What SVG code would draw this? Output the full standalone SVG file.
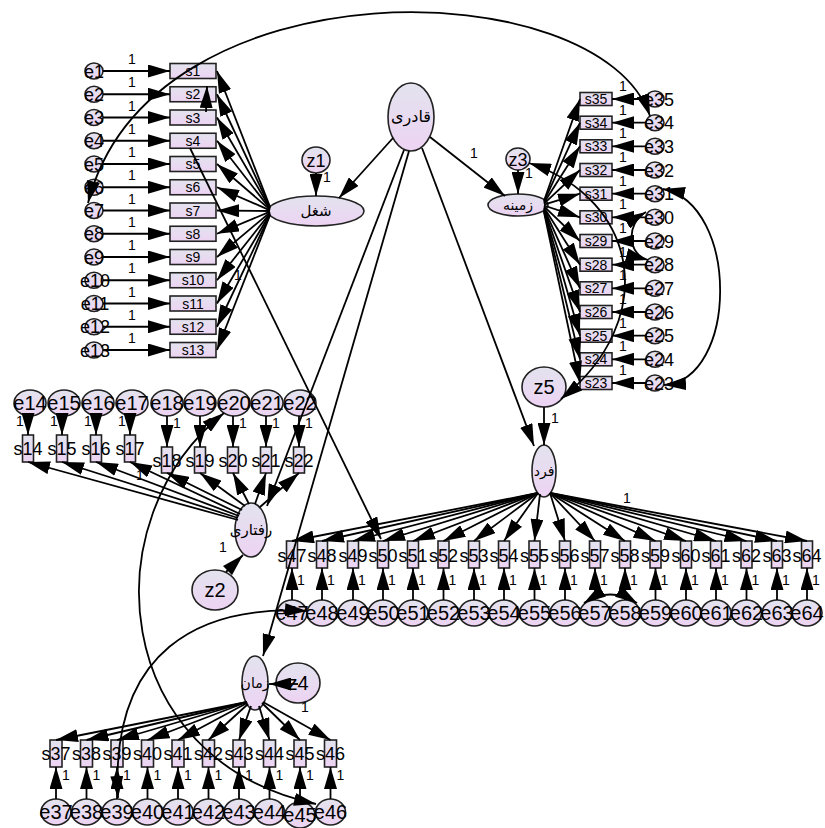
<svg xmlns="http://www.w3.org/2000/svg" width="825" height="828" viewBox="0 0 825 828">
<defs>
<linearGradient id="g" x1="0" y1="0" x2="0" y2="1"><stop offset="0" stop-color="#e3e3ee"/><stop offset="1" stop-color="#edd3f3"/></linearGradient>
<marker id="a" viewBox="0 0 22 13" refX="22" refY="6.5" markerWidth="22" markerHeight="13" markerUnits="userSpaceOnUse" orient="auto-start-reverse"><path d="M0,0 L22,6.5 L0,13 z" fill="#000"/></marker>
<style>
.b,.n{fill:url(#g);stroke:#222;stroke-width:1.6}
.t{font-family:"Liberation Sans",Arial,sans-serif;fill:#000;text-anchor:middle}
.f14{font-size:14px}.f18{font-size:18px}.f20{font-size:20px}
.fa{font-family:"DejaVu Sans","Noto Sans",sans-serif;font-size:14px;text-anchor:middle;fill:#000}
.c path{fill:none;stroke:#000;stroke-width:1.8;marker-end:url(#a)}
.c path.d{marker-start:url(#a)}
.c text{font-family:"Liberation Sans",Arial,sans-serif;font-size:14px;text-anchor:middle;fill:#000}
</style>
</defs>
<rect width="825" height="828" fill="#fff"/>
<g id="nodes">
<g id="qadri"><ellipse class="n" cx="411" cy="117" rx="23" ry="34"/><text class="fa" x="411" y="122" style="font-size:16px">قادری</text></g>
<g id="shoghl"><ellipse class="n" cx="316" cy="211" rx="48" ry="15"/><text class="fa" x="316" y="216" style="font-size:15px">شغل</text></g>
<g id="zamine"><ellipse class="n" cx="518" cy="205" rx="30" ry="11"/><text class="fa" x="518" y="210">زمینه</text></g>
<g id="fard"><ellipse class="n" cx="544" cy="471" rx="12" ry="26"/><text class="fa" x="544" y="476">فرد</text></g>
<g id="raftari"><ellipse class="n" cx="251" cy="530" rx="16" ry="27"/><text class="fa" x="251" y="535" style="font-size:15px">رفتاری</text></g>
<g id="zaman"><ellipse class="n" cx="255" cy="683" rx="13" ry="27"/><text class="fa" x="255" y="688">زمان</text></g>
<g id="z1"><ellipse class="n" cx="316" cy="160" rx="14" ry="13"/><text class="t f18" x="316" y="166.5">z1</text></g>
<g id="z2"><ellipse class="n" cx="215" cy="590" rx="23" ry="20"/><text class="t f20" x="215" y="597">z2</text></g>
<g id="z3"><ellipse class="n" cx="518" cy="159" rx="12" ry="11"/><text class="t f18" x="518" y="165.5">z3</text></g>
<g id="z4"><ellipse class="n" cx="298" cy="683" rx="22" ry="20"/><text class="t f20" x="298" y="690">z4</text></g>
<g id="z5"><ellipse class="n" cx="544" cy="387" rx="22" ry="20"/><text class="t f20" x="544" y="394">z5</text></g>
<g id="s1"><rect class="b" x="170" y="63.5" width="46" height="15"/><text class="t f14" x="193" y="76">s1</text></g>
<g id="s2"><rect class="b" x="170" y="86.75" width="46" height="15"/><text class="t f14" x="193" y="99.25">s2</text></g>
<g id="s3"><rect class="b" x="170" y="110" width="46" height="15"/><text class="t f14" x="193" y="122.5">s3</text></g>
<g id="s4"><rect class="b" x="170" y="133.25" width="46" height="15"/><text class="t f14" x="193" y="145.75">s4</text></g>
<g id="s5"><rect class="b" x="170" y="156.5" width="46" height="15"/><text class="t f14" x="193" y="169">s5</text></g>
<g id="s6"><rect class="b" x="170" y="179.75" width="46" height="15"/><text class="t f14" x="193" y="192.25">s6</text></g>
<g id="s7"><rect class="b" x="170" y="203" width="46" height="15"/><text class="t f14" x="193" y="215.5">s7</text></g>
<g id="s8"><rect class="b" x="170" y="226.25" width="46" height="15"/><text class="t f14" x="193" y="238.75">s8</text></g>
<g id="s9"><rect class="b" x="170" y="249.5" width="46" height="15"/><text class="t f14" x="193" y="262">s9</text></g>
<g id="s10"><rect class="b" x="170" y="272.75" width="46" height="15"/><text class="t f14" x="193" y="285.25">s10</text></g>
<g id="s11"><rect class="b" x="170" y="296" width="46" height="15"/><text class="t f14" x="193" y="308.5">s11</text></g>
<g id="s12"><rect class="b" x="170" y="319.25" width="46" height="15"/><text class="t f14" x="193" y="331.75">s12</text></g>
<g id="s13"><rect class="b" x="170" y="342.5" width="46" height="15"/><text class="t f14" x="193" y="355">s13</text></g>
<g id="e1"><ellipse class="n" cx="94" cy="71" rx="9" ry="8"/><text class="t f18" x="94" y="77.5">e1</text></g>
<g id="e2"><ellipse class="n" cx="94" cy="94.25" rx="9" ry="8"/><text class="t f18" x="94" y="100.75">e2</text></g>
<g id="e3"><ellipse class="n" cx="94" cy="117.5" rx="9" ry="8"/><text class="t f18" x="94" y="124">e3</text></g>
<g id="e4"><ellipse class="n" cx="94" cy="140.75" rx="9" ry="8"/><text class="t f18" x="94" y="147.25">e4</text></g>
<g id="e5"><ellipse class="n" cx="94" cy="164" rx="9" ry="8"/><text class="t f18" x="94" y="170.5">e5</text></g>
<g id="e6"><ellipse class="n" cx="94" cy="187.25" rx="9" ry="8"/><text class="t f18" x="94" y="193.75">e6</text></g>
<g id="e7"><ellipse class="n" cx="94" cy="210.5" rx="9" ry="8"/><text class="t f18" x="94" y="217">e7</text></g>
<g id="e8"><ellipse class="n" cx="94" cy="233.75" rx="9" ry="8"/><text class="t f18" x="94" y="240.25">e8</text></g>
<g id="e9"><ellipse class="n" cx="94" cy="257" rx="9" ry="8"/><text class="t f18" x="94" y="263.5">e9</text></g>
<g id="e10"><ellipse class="n" cx="94" cy="280.25" rx="9" ry="8"/><text class="t f18" x="95" y="286.75">e10</text></g>
<g id="e11"><ellipse class="n" cx="94" cy="303.5" rx="9" ry="8"/><text class="t f18" x="95" y="310">e11</text></g>
<g id="e12"><ellipse class="n" cx="94" cy="326.75" rx="9" ry="8"/><text class="t f18" x="95" y="333.25">e12</text></g>
<g id="e13"><ellipse class="n" cx="94" cy="350" rx="9" ry="8"/><text class="t f18" x="95" y="356.5">e13</text></g>
<g id="s35"><rect class="b" x="580" y="92.5" width="32" height="13"/><text class="t f14" x="596" y="104">s35</text></g>
<g id="s34"><rect class="b" x="580" y="116.2" width="32" height="13"/><text class="t f14" x="596" y="127.7">s34</text></g>
<g id="s33"><rect class="b" x="580" y="139.8" width="32" height="13"/><text class="t f14" x="596" y="151.3">s33</text></g>
<g id="s32"><rect class="b" x="580" y="163.5" width="32" height="13"/><text class="t f14" x="596" y="175">s32</text></g>
<g id="s31"><rect class="b" x="580" y="187.2" width="32" height="13"/><text class="t f14" x="596" y="198.7">s31</text></g>
<g id="s30"><rect class="b" x="580" y="210.8" width="32" height="13"/><text class="t f14" x="596" y="222.3">s30</text></g>
<g id="s29"><rect class="b" x="580" y="234.5" width="32" height="13"/><text class="t f14" x="596" y="246">s29</text></g>
<g id="s28"><rect class="b" x="580" y="258.2" width="32" height="13"/><text class="t f14" x="596" y="269.7">s28</text></g>
<g id="s27"><rect class="b" x="580" y="281.8" width="32" height="13"/><text class="t f14" x="596" y="293.3">s27</text></g>
<g id="s26"><rect class="b" x="580" y="305.5" width="32" height="13"/><text class="t f14" x="596" y="317">s26</text></g>
<g id="s25"><rect class="b" x="580" y="329.2" width="32" height="13"/><text class="t f14" x="596" y="340.7">s25</text></g>
<g id="s24"><rect class="b" x="580" y="352.8" width="32" height="13"/><text class="t f14" x="596" y="364.3">s24</text></g>
<g id="s23"><rect class="b" x="580" y="376.5" width="32" height="13"/><text class="t f14" x="596" y="388">s23</text></g>
<g id="e35"><ellipse class="n" cx="655" cy="99" rx="9" ry="8"/><text class="t f18" x="659" y="105.5">e35</text></g>
<g id="e34"><ellipse class="n" cx="655" cy="122.7" rx="9" ry="8"/><text class="t f18" x="659" y="129.2">e34</text></g>
<g id="e33"><ellipse class="n" cx="655" cy="146.3" rx="9" ry="8"/><text class="t f18" x="659" y="152.8">e33</text></g>
<g id="e32"><ellipse class="n" cx="655" cy="170" rx="9" ry="8"/><text class="t f18" x="659" y="176.5">e32</text></g>
<g id="e31"><ellipse class="n" cx="655" cy="193.7" rx="9" ry="8"/><text class="t f18" x="659" y="200.2">e31</text></g>
<g id="e30"><ellipse class="n" cx="655" cy="217.3" rx="9" ry="8"/><text class="t f18" x="659" y="223.8">e30</text></g>
<g id="e29"><ellipse class="n" cx="655" cy="241" rx="9" ry="8"/><text class="t f18" x="659" y="247.5">e29</text></g>
<g id="e28"><ellipse class="n" cx="655" cy="264.7" rx="9" ry="8"/><text class="t f18" x="659" y="271.2">e28</text></g>
<g id="e27"><ellipse class="n" cx="655" cy="288.3" rx="9" ry="8"/><text class="t f18" x="659" y="294.8">e27</text></g>
<g id="e26"><ellipse class="n" cx="655" cy="312" rx="9" ry="8"/><text class="t f18" x="659" y="318.5">e26</text></g>
<g id="e25"><ellipse class="n" cx="655" cy="335.7" rx="9" ry="8"/><text class="t f18" x="659" y="342.2">e25</text></g>
<g id="e24"><ellipse class="n" cx="655" cy="359.3" rx="9" ry="8"/><text class="t f18" x="659" y="365.8">e24</text></g>
<g id="e23"><ellipse class="n" cx="655" cy="383" rx="9" ry="8"/><text class="t f18" x="659" y="389.5">e23</text></g>
<g id="s14"><rect class="b" x="22.5" y="435" width="11" height="27"/><text class="t f18" x="28" y="455">s14</text></g>
<g id="s15"><rect class="b" x="56.5" y="435" width="11" height="27"/><text class="t f18" x="62" y="455">s15</text></g>
<g id="s16"><rect class="b" x="90.5" y="435" width="11" height="27"/><text class="t f18" x="96" y="455">s16</text></g>
<g id="s17"><rect class="b" x="124.5" y="435" width="11" height="27"/><text class="t f18" x="130" y="455">s17</text></g>
<g id="s18"><rect class="b" x="161.5" y="447" width="11" height="26"/><text class="t f18" x="167" y="467">s18</text></g>
<g id="s19"><rect class="b" x="194.5" y="447" width="11" height="26"/><text class="t f18" x="200" y="467">s19</text></g>
<g id="s20"><rect class="b" x="227.5" y="447" width="11" height="26"/><text class="t f18" x="233" y="467">s20</text></g>
<g id="s21"><rect class="b" x="260.5" y="447" width="11" height="26"/><text class="t f18" x="266" y="467">s21</text></g>
<g id="s22"><rect class="b" x="293.5" y="447" width="11" height="26"/><text class="t f18" x="299" y="467">s22</text></g>
<g id="e14"><ellipse class="n" cx="30" cy="403" rx="16" ry="13"/><text class="t f20" x="30" y="410">e14</text></g>
<g id="e15"><ellipse class="n" cx="64" cy="403" rx="16" ry="13"/><text class="t f20" x="64" y="410">e15</text></g>
<g id="e16"><ellipse class="n" cx="98" cy="403" rx="16" ry="13"/><text class="t f20" x="98" y="410">e16</text></g>
<g id="e17"><ellipse class="n" cx="132" cy="403" rx="16" ry="13"/><text class="t f20" x="132" y="410">e17</text></g>
<g id="e18"><ellipse class="n" cx="167" cy="403" rx="16" ry="13"/><text class="t f20" x="167" y="410">e18</text></g>
<g id="e19"><ellipse class="n" cx="200" cy="403" rx="16" ry="13"/><text class="t f20" x="200" y="410">e19</text></g>
<g id="e20"><ellipse class="n" cx="234" cy="403" rx="16" ry="13"/><text class="t f20" x="234" y="410">e20</text></g>
<g id="e21"><ellipse class="n" cx="267" cy="403" rx="16" ry="13"/><text class="t f20" x="267" y="410">e21</text></g>
<g id="e22"><ellipse class="n" cx="300" cy="403" rx="16" ry="13"/><text class="t f20" x="300" y="410">e22</text></g>
<g id="s47"><rect class="b" x="286.5" y="541" width="11" height="27"/><text class="t f18" x="292" y="562">s47</text></g>
<g id="s48"><rect class="b" x="316.5" y="541" width="11" height="27"/><text class="t f18" x="322" y="562">s48</text></g>
<g id="s49"><rect class="b" x="347.5" y="541" width="11" height="27"/><text class="t f18" x="353" y="562">s49</text></g>
<g id="s50"><rect class="b" x="377.5" y="541" width="11" height="27"/><text class="t f18" x="383" y="562">s50</text></g>
<g id="s51"><rect class="b" x="407.5" y="541" width="11" height="27"/><text class="t f18" x="413" y="562">s51</text></g>
<g id="s52"><rect class="b" x="438" y="541" width="11" height="27"/><text class="t f18" x="443.5" y="562">s52</text></g>
<g id="s53"><rect class="b" x="468.5" y="541" width="11" height="27"/><text class="t f18" x="474" y="562">s53</text></g>
<g id="s54"><rect class="b" x="498.5" y="541" width="11" height="27"/><text class="t f18" x="504" y="562">s54</text></g>
<g id="s55"><rect class="b" x="529" y="541" width="11" height="27"/><text class="t f18" x="534.5" y="562">s55</text></g>
<g id="s56"><rect class="b" x="559.5" y="541" width="11" height="27"/><text class="t f18" x="565" y="562">s56</text></g>
<g id="s57"><rect class="b" x="589.5" y="541" width="11" height="27"/><text class="t f18" x="595" y="562">s57</text></g>
<g id="s58"><rect class="b" x="619.5" y="541" width="11" height="27"/><text class="t f18" x="625" y="562">s58</text></g>
<g id="s59"><rect class="b" x="650" y="541" width="11" height="27"/><text class="t f18" x="655.5" y="562">s59</text></g>
<g id="s60"><rect class="b" x="680.5" y="541" width="11" height="27"/><text class="t f18" x="686" y="562">s60</text></g>
<g id="s61"><rect class="b" x="710.5" y="541" width="11" height="27"/><text class="t f18" x="716" y="562">s61</text></g>
<g id="s62"><rect class="b" x="741" y="541" width="11" height="27"/><text class="t f18" x="746.5" y="562">s62</text></g>
<g id="s63"><rect class="b" x="771.5" y="541" width="11" height="27"/><text class="t f18" x="777" y="562">s63</text></g>
<g id="s64"><rect class="b" x="801.5" y="541" width="11" height="27"/><text class="t f18" x="807" y="562">s64</text></g>
<g id="e47"><ellipse class="n" cx="292" cy="613" rx="15" ry="13"/><text class="t f20" x="292" y="620">e47</text></g>
<g id="e48"><ellipse class="n" cx="322" cy="613" rx="15" ry="13"/><text class="t f20" x="322" y="620">e48</text></g>
<g id="e49"><ellipse class="n" cx="353" cy="613" rx="15" ry="13"/><text class="t f20" x="353" y="620">e49</text></g>
<g id="e50"><ellipse class="n" cx="383" cy="613" rx="15" ry="13"/><text class="t f20" x="383" y="620">e50</text></g>
<g id="e51"><ellipse class="n" cx="413" cy="613" rx="15" ry="13"/><text class="t f20" x="413" y="620">e51</text></g>
<g id="e52"><ellipse class="n" cx="443.5" cy="613" rx="15" ry="13"/><text class="t f20" x="443.5" y="620">e52</text></g>
<g id="e53"><ellipse class="n" cx="474" cy="613" rx="15" ry="13"/><text class="t f20" x="474" y="620">e53</text></g>
<g id="e54"><ellipse class="n" cx="504" cy="613" rx="15" ry="13"/><text class="t f20" x="504" y="620">e54</text></g>
<g id="e55"><ellipse class="n" cx="534.5" cy="613" rx="15" ry="13"/><text class="t f20" x="534.5" y="620">e55</text></g>
<g id="e56"><ellipse class="n" cx="565" cy="613" rx="15" ry="13"/><text class="t f20" x="565" y="620">e56</text></g>
<g id="e57"><ellipse class="n" cx="595" cy="613" rx="15" ry="13"/><text class="t f20" x="595" y="620">e57</text></g>
<g id="e58"><ellipse class="n" cx="625" cy="613" rx="15" ry="13"/><text class="t f20" x="625" y="620">e58</text></g>
<g id="e59"><ellipse class="n" cx="655.5" cy="613" rx="15" ry="13"/><text class="t f20" x="655.5" y="620">e59</text></g>
<g id="e60"><ellipse class="n" cx="686" cy="613" rx="15" ry="13"/><text class="t f20" x="686" y="620">e60</text></g>
<g id="e61"><ellipse class="n" cx="716" cy="613" rx="15" ry="13"/><text class="t f20" x="716" y="620">e61</text></g>
<g id="e62"><ellipse class="n" cx="746.5" cy="613" rx="15" ry="13"/><text class="t f20" x="746.5" y="620">e62</text></g>
<g id="e63"><ellipse class="n" cx="777" cy="613" rx="15" ry="13"/><text class="t f20" x="777" y="620">e63</text></g>
<g id="e64"><ellipse class="n" cx="807" cy="613" rx="15" ry="13"/><text class="t f20" x="807" y="620">e64</text></g>
<g id="s37"><rect class="b" x="50" y="740" width="12" height="27"/><text class="t f18" x="56" y="760">s37</text></g>
<g id="s38"><rect class="b" x="80.5" y="740" width="12" height="27"/><text class="t f18" x="86.5" y="760">s38</text></g>
<g id="s39"><rect class="b" x="111" y="740" width="12" height="27"/><text class="t f18" x="117" y="760">s39</text></g>
<g id="s40"><rect class="b" x="141.5" y="740" width="12" height="27"/><text class="t f18" x="147.5" y="760">s40</text></g>
<g id="s41"><rect class="b" x="172" y="740" width="12" height="27"/><text class="t f18" x="178" y="760">s41</text></g>
<g id="s42"><rect class="b" x="202.5" y="740" width="12" height="27"/><text class="t f18" x="208.5" y="760">s42</text></g>
<g id="s43"><rect class="b" x="233" y="740" width="12" height="27"/><text class="t f18" x="239" y="760">s43</text></g>
<g id="s44"><rect class="b" x="263.5" y="740" width="12" height="27"/><text class="t f18" x="269.5" y="760">s44</text></g>
<g id="s45"><rect class="b" x="294" y="740" width="12" height="27"/><text class="t f18" x="300" y="760">s45</text></g>
<g id="s46"><rect class="b" x="324.5" y="740" width="12" height="27"/><text class="t f18" x="330.5" y="760">s46</text></g>
<g id="e37"><ellipse class="n" cx="56" cy="812" rx="15" ry="13"/><text class="t f20" x="56" y="819">e37</text></g>
<g id="e38"><ellipse class="n" cx="86.5" cy="812" rx="15" ry="13"/><text class="t f20" x="86.5" y="819">e38</text></g>
<g id="e39"><ellipse class="n" cx="117" cy="812" rx="15" ry="13"/><text class="t f20" x="117" y="819">e39</text></g>
<g id="e40"><ellipse class="n" cx="147.5" cy="812" rx="15" ry="13"/><text class="t f20" x="147.5" y="819">e40</text></g>
<g id="e41"><ellipse class="n" cx="178" cy="812" rx="15" ry="13"/><text class="t f20" x="178" y="819">e41</text></g>
<g id="e42"><ellipse class="n" cx="208.5" cy="812" rx="15" ry="13"/><text class="t f20" x="208.5" y="819">e42</text></g>
<g id="e43"><ellipse class="n" cx="239" cy="812" rx="15" ry="13"/><text class="t f20" x="239" y="819">e43</text></g>
<g id="e44"><ellipse class="n" cx="269.5" cy="812" rx="15" ry="13"/><text class="t f20" x="269.5" y="819">e44</text></g>
<g id="e45"><ellipse class="n" cx="300" cy="815" rx="15" ry="13"/><text class="t f20" x="300" y="822">e45</text></g>
<g id="e46"><ellipse class="n" cx="330.5" cy="812" rx="15" ry="13"/><text class="t f20" x="330.5" y="819">e46</text></g>
</g>
<g id="connectors" class="c">
<path d="M393,138 L339,198"/>
<path d="M430,137 L505,196"/>
<path d="M404,150 L267,506"/>
<path d="M409,151 L263,656"/>
<path d="M422,148 L534,446"/>
<text x="474" y="158">1</text>
<path d="M316,173 L316,196"/><text x="327" y="182">1</text>
<path d="M518,170 L518,194"/><text x="529" y="178">1</text>
<path d="M544,407 L544,445"/><text x="555" y="423">1</text>
<path d="M226,572 L243,555"/><text x="223" y="552">1</text>
<path d="M298,684 L269,684"/><text x="305" y="712">1</text>
<path d="M270,206.8 L217,71"/>
<path d="M270,207.5 L217,94.25"/>
<path d="M270,208.2 L217,117.5"/>
<path d="M270,208.9 L217,140.75"/>
<path d="M270,209.6 L217,164"/>
<path d="M270,210.3 L217,187.25"/>
<path d="M270,211 L217,210.5"/>
<path d="M270,211.7 L217,233.75"/>
<path d="M270,212.4 L217,257"/>
<path d="M270,213.1 L217,280.25"/>
<path d="M270,213.8 L217,303.5"/>
<path d="M270,214.5 L217,326.75"/>
<path d="M270,215.2 L217,350"/>
<text x="238" y="280">1</text>
<path d="M103,71 L170,71"/><text x="132" y="64">1</text>
<path d="M103,94.25 L170,94.25"/><text x="132" y="87.25">1</text>
<path d="M103,117.5 L170,117.5"/><text x="132" y="110.5">1</text>
<path d="M103,140.75 L170,140.75"/><text x="132" y="133.75">1</text>
<path d="M103,164 L170,164"/><text x="132" y="157">1</text>
<path d="M103,187.25 L170,187.25"/><text x="132" y="180.25">1</text>
<path d="M103,210.5 L170,210.5"/><text x="132" y="203.5">1</text>
<path d="M103,233.75 L170,233.75"/><text x="132" y="226.75">1</text>
<path d="M103,257 L170,257"/><text x="132" y="250">1</text>
<path d="M103,280.25 L170,280.25"/><text x="132" y="273.25">1</text>
<path d="M103,303.5 L170,303.5"/><text x="132" y="296.5">1</text>
<path d="M103,326.75 L170,326.75"/><text x="132" y="319.75">1</text>
<path d="M103,350 L170,350"/><text x="132" y="343">1</text>
<path d="M544,200.8 L580,99"/>
<path d="M544,201.7 L580,122.7"/>
<path d="M544,202.7 L580,146.3"/>
<path d="M544,203.6 L580,170"/>
<path d="M544,204.6 L580,193.7"/>
<path d="M544,205.5 L580,217.3"/>
<path d="M544,206.4 L580,241"/>
<path d="M544,207.4 L580,264.7"/>
<path d="M544,208.3 L580,288.3"/>
<path d="M544,209.3 L580,312"/>
<path d="M544,210.2 L580,335.7"/>
<path d="M544,211.2 L580,359.3"/>
<path d="M544,212.1 L580,383"/>
<path d="M646,99 L612,99"/><text x="623" y="91">1</text>
<path d="M646,122.7 L612,122.7"/><text x="623" y="114.7">1</text>
<path d="M646,146.3 L612,146.3"/><text x="623" y="138.3">1</text>
<path d="M646,170 L612,170"/><text x="623" y="162">1</text>
<path d="M646,193.7 L612,193.7"/><text x="623" y="185.7">1</text>
<path d="M646,217.3 L612,217.3"/><text x="623" y="209.3">1</text>
<path d="M646,241 L612,241"/><text x="623" y="233">1</text>
<path d="M646,264.7 L612,264.7"/><text x="623" y="256.7">1</text>
<path d="M646,288.3 L612,288.3"/><text x="623" y="280.3">1</text>
<path d="M646,312 L612,312"/><text x="623" y="304">1</text>
<path d="M646,335.7 L612,335.7"/><text x="623" y="327.7">1</text>
<path d="M646,359.3 L612,359.3"/><text x="623" y="351.3">1</text>
<path d="M646,383 L612,383"/><text x="623" y="375">1</text>
<path d="M238,520 L28,462"/>
<path d="M238,518 L62,462"/>
<path d="M239,516 L96,462"/>
<path d="M240,514 L130,462"/>
<path d="M242,510 L167,473"/>
<path d="M245,506 L200,473"/>
<path d="M249,504 L233,473"/>
<path d="M255,504 L266,473"/>
<path d="M260,507 L299,473"/>
<text x="140" y="480">1</text>
<path d="M28,416 L28,435"/><text x="20" y="426">1</text>
<path d="M62,416 L62,435"/><text x="54" y="426">1</text>
<path d="M96,416 L96,435"/><text x="88" y="426">1</text>
<path d="M130,416 L130,435"/><text x="122" y="426">1</text>
<path d="M167,416 L167,447"/><text x="177" y="428">1</text>
<path d="M200,416 L200,447"/><text x="210" y="428">1</text>
<path d="M233,416 L233,447"/><text x="243" y="428">1</text>
<path d="M266,416 L266,447"/><text x="276" y="428">1</text>
<path d="M299,416 L299,447"/><text x="309" y="428">1</text>
<path d="M538,493 L292,541"/>
<path d="M538,493 L322,541"/>
<path d="M538,493 L353,541"/>
<path d="M538,493 L383,541"/>
<path d="M538,493 L413,541"/>
<path d="M538,493 L443.5,541"/>
<path d="M538,493 L474,541"/>
<path d="M538,493 L504,541"/>
<path d="M540,494 L534.5,541"/>
<path d="M550,493 L565,541"/>
<path d="M550,493 L595,541"/>
<path d="M550,493 L625,541"/>
<path d="M550,493 L655.5,541"/>
<path d="M550,493 L686,541"/>
<path d="M550,493 L716,541"/>
<path d="M550,493 L746.5,541"/>
<path d="M550,493 L777,541"/>
<path d="M550,493 L807,541"/>
<text x="627" y="503">1</text>
<path d="M292,600 L292,568"/><text x="301" y="585">1</text>
<path d="M322,600 L322,568"/><text x="331" y="585">1</text>
<path d="M353,600 L353,568"/><text x="362" y="585">1</text>
<path d="M383,600 L383,568"/><text x="392" y="585">1</text>
<path d="M413,600 L413,568"/><text x="422" y="585">1</text>
<path d="M443.5,600 L443.5,568"/><text x="452.5" y="585">1</text>
<path d="M474,600 L474,568"/><text x="483" y="585">1</text>
<path d="M504,600 L504,568"/><text x="513" y="585">1</text>
<path d="M534.5,600 L534.5,568"/><text x="543.5" y="585">1</text>
<path d="M565,600 L565,568"/><text x="574" y="585">1</text>
<path d="M595,600 L595,568"/><text x="604" y="585">1</text>
<path d="M625,600 L625,568"/><text x="634" y="585">1</text>
<path d="M655.5,600 L655.5,568"/><text x="664.5" y="585">1</text>
<path d="M686,600 L686,568"/><text x="695" y="585">1</text>
<path d="M716,600 L716,568"/><text x="725" y="585">1</text>
<path d="M746.5,600 L746.5,568"/><text x="755.5" y="585">1</text>
<path d="M777,600 L777,568"/><text x="786" y="585">1</text>
<path d="M807,600 L807,568"/><text x="816" y="585">1</text>
<path d="M247,702 L56,740"/>
<path d="M247,702 L86.5,740"/>
<path d="M247,702 L117,740"/>
<path d="M247,702 L147.5,740"/>
<path d="M247,703 L178,740"/>
<path d="M248,704 L208.5,740"/>
<path d="M251,706 L239,740"/>
<path d="M259,706 L269.5,740"/>
<path d="M262,703 L300,740"/>
<path d="M263,702 L330.5,740"/>
<path d="M56,799 L56,767"/><text x="66" y="780">1</text>
<path d="M86.5,799 L86.5,767"/><text x="96.5" y="780">1</text>
<path d="M117,799 L117,767"/><text x="127" y="780">1</text>
<path d="M147.5,799 L147.5,767"/><text x="157.5" y="780">1</text>
<path d="M178,799 L178,767"/><text x="188" y="780">1</text>
<path d="M208.5,799 L208.5,767"/><text x="218.5" y="780">1</text>
<path d="M239,799 L239,767"/><text x="249" y="780">1</text>
<path d="M269.5,799 L269.5,767"/><text x="279.5" y="780">1</text>
<path d="M300,802 L300,767"/><text x="310" y="780">1</text>
<path d="M330.5,799 L330.5,767"/><text x="340.5" y="780">1</text>
<path d="M190,148 L381,539"/>
<path d="M206,112 L207,86"/>
<path class="d" d="M88,203 C150,-40 600,-30 650,116"/>
<path class="d" d="M663,189 C740,205 738,380 664,385"/>
<path class="d" d="M646,212 C625,224 628,255 648,260"/>
<path class="d" d="M529,163 C640,200 660,320 561,399"/>
<path class="d" d="M224,413 C90,520 110,760 316,804"/>
<path class="d" d="M307,611 C200,605 110,650 118,798"/>
<path class="d" d="M584,603 Q610,586 637,603"/>
</g>
</svg>
